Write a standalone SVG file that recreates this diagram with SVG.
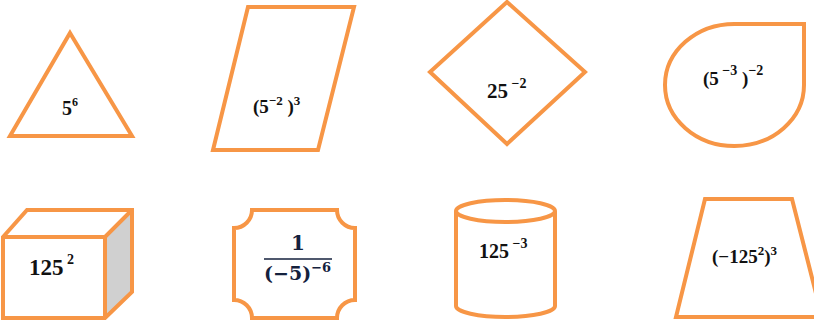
<svg xmlns="http://www.w3.org/2000/svg" width="814" height="321" viewBox="0 0 814 321">
<style>
.s{fill:#fff;stroke:#f79646;stroke-width:4;stroke-linejoin:miter}
.e{fill:none;stroke:#f79646;stroke-width:4;stroke-linejoin:miter}
.t{font-family:"Liberation Serif","Times New Roman",serif;font-weight:bold;fill:#111;}
.m{font-family:"DejaVu Serif","Liberation Serif",serif;font-weight:bold;fill:#14213d;}
</style>
<rect width="814" height="321" fill="#fff"/>
<g id="triangle">
<polygon class="s" points="70,33 132,136 10,136"/>
<text class="t" x="62" y="115" font-size="20">5<tspan font-size="12" dy="-9">6</tspan></text>
</g>
<g id="parallelogram">
<polygon class="s" points="248,7 354,7 318,150 213,150"/>
<text class="t" x="253" y="113" font-size="19">(5<tspan font-size="13" dy="-8">−2</tspan><tspan dy="8"> )</tspan><tspan font-size="13" dy="-8">3</tspan></text>
</g>
<g id="diamond">
<polygon class="s" points="507,2 585,72 507,144 430,72"/>
<text class="t" x="487" y="98" font-size="21">25<tspan font-size="14" dy="-10"> −2</tspan></text>
</g>
<g id="teardrop">
<path class="s" d="M734.5,24 L804,24 L804,85 A69.5,61 0 1 1 734.5,24 Z"/>
<text class="t" x="703" y="85" font-size="19">(5<tspan font-size="14" dy="-10"> −3</tspan><tspan dy="10"> )</tspan><tspan font-size="14" dy="-10">−2</tspan></text>
</g>
<g id="cube">
<polygon points="105,237 132,210 132,292 105,318" fill="#d0d0d0"/>
<path class="e" d="M3,237 L27,210 L132,210 L132,292 L105,318 L3,318 Z"/>
<path class="e" d="M3,237 L105,237 L132,210 M105,237 L105,318"/>
<text class="t" x="29" y="275" font-size="23">125<tspan font-size="14" dy="-11"> 2</tspan></text>
</g>
<g id="plaque">
<path class="s" d="M252,210 L337,210 A18,18 0 0 0 355,228 L355,300 A18,18 0 0 0 337,318 L252,318 A18,18 0 0 0 234,300 L234,228 A18,18 0 0 0 252,210 Z"/>
<text class="m" x="298" y="250" font-size="20" text-anchor="middle">1</text>
<line x1="264" y1="259" x2="332" y2="259" stroke="#14213d" stroke-width="1.5"/>
<text class="m" x="264" y="280" font-size="19">(−5)<tspan font-size="13" dy="-8">−6</tspan></text>
</g>
<g id="cylinder">
<path class="s" d="M456,211 L456,306 A49.5,11 0 0 0 555,306 L555,211"/>
<ellipse class="s" cx="505.5" cy="211" rx="49.5" ry="11"/>
<text class="t" x="479" y="258" font-size="20">125<tspan font-size="14" dy="-10"> −3</tspan></text>
</g>
<g id="trapezoid">
<polygon class="s" points="705,199 792,199 822,317 676,317"/>
<text class="t" x="712" y="263" font-size="19">(−125<tspan font-size="13" dy="-8">2</tspan><tspan dy="8">)</tspan><tspan font-size="13" dy="-8">3</tspan></text>
</g>
</svg>
